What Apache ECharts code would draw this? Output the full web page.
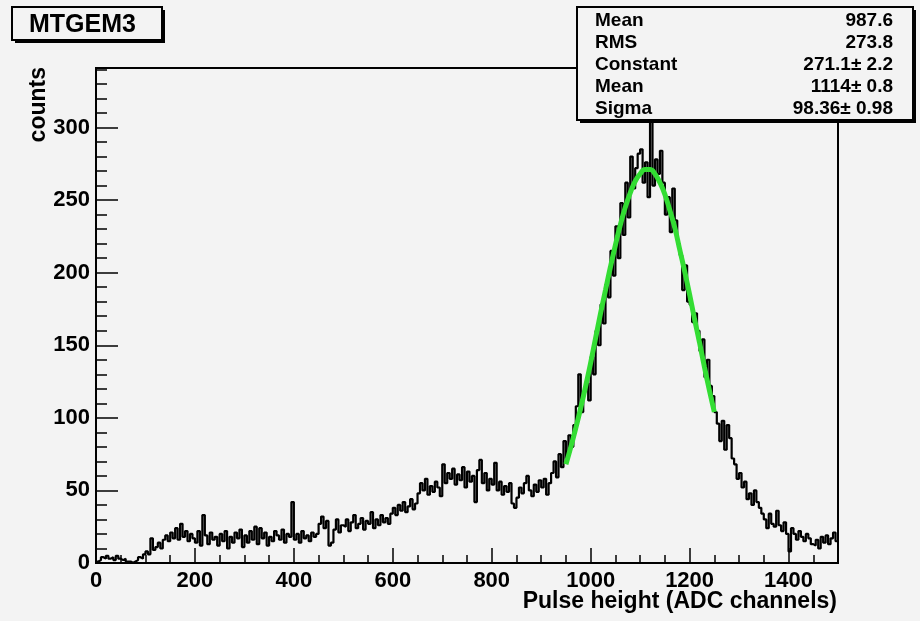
<!DOCTYPE html>
<html>
<head>
<meta charset="utf-8">
<script src="https://cdn.jsdelivr.net/npm/echarts@6/dist/echarts.min.js"></script>
<style>
  html, body { margin: 0; padding: 0; background: #f3f3f3; }
  #chart { width: 920px; height: 621px; }
</style>
</head>
<body>
<div id="chart"></div>
<script>
// histogram: 5 ADC channels per bin, 0..1500
const binWidth = 5;
const counts = [
  1, 2, 4, 3, 5, 3, 4, 2, 5, 3,
  2, 3, 1, 1, 0, 1, 2, 4, 3, 6,
  8, 6, 17, 9, 11, 14, 10, 16, 19, 15,
  21, 17, 24, 16, 27, 18, 22, 15, 20, 17,
  14, 22, 12, 33, 19, 13, 21, 16, 18, 12,
  20, 15, 22, 10, 18, 14, 21, 17, 23, 11,
  19, 14, 22, 16, 25, 13, 24, 17, 21, 12,
  18, 15, 22, 19, 16, 23, 14, 20, 18, 42,
  16, 20, 14, 22, 17, 19, 15, 21, 18, 20,
  27, 32, 24, 29, 12, 14, 23, 30, 21, 26,
  25, 30, 22, 28, 33, 24, 27, 31, 23, 29,
  27, 35, 24, 30, 26, 33, 28, 31, 27, 34,
  38, 33, 40, 36, 42, 35, 39, 44, 37, 41,
  48, 55, 50, 58, 47, 53, 49, 56, 52, 46,
  68, 55, 62, 58, 65, 54, 61, 57, 66, 52,
  63, 56, 60, 42, 64, 71, 55, 62, 50, 58,
  54, 69, 50, 56, 47, 53, 49, 55, 41, 38,
  45, 52, 48, 55, 60, 50, 46, 54, 49, 57,
  52, 58, 47, 55, 62, 70, 59, 75, 66, 84,
  72, 88, 80, 95, 108, 130, 104, 118, 124, 112,
  142, 130, 160, 150, 178, 165, 192, 183, 215, 198,
  232, 210, 248, 226, 262, 238, 280, 258, 272, 282,
  285, 262, 276, 252, 305, 260, 278, 268, 284, 262,
  240, 252, 228, 258, 236, 220, 212, 188, 205, 180,
  178, 166, 172, 160, 146, 154, 128, 140, 122, 115,
  104, 96, 84, 98, 78, 95, 86, 72, 68, 58,
  62, 52, 56, 44, 48, 40, 50, 42, 38, 34,
  30, 24, 34, 27, 25, 36, 26, 22, 28, 20,
  8, 24, 20, 16, 22, 18, 15, 20, 17, 13,
  12, 16, 10, 18, 14, 19, 13, 17, 21, 15
];

// gaussian fit curve
const fitX = [950, 960, 970, 980, 990, 1000, 1010, 1020, 1030, 1040, 1050, 1060, 1070, 1080, 1090, 1100,
  1110, 1120, 1130, 1140, 1150, 1160, 1170, 1180, 1190, 1200, 1210, 1220, 1230, 1240, 1250];
const fitY = [68, 80, 93, 107, 122, 138, 155, 172, 188, 204, 219, 233, 245, 255, 263, 268,
  271, 271, 268, 262, 254, 243, 231, 216, 201, 185, 168, 152, 135, 119, 104];

const statNames = ['Mean', 'RMS', 'Constant', 'Mean', 'Sigma'];
const statValues = ['987.6', '273.8', '271.1\u00b1 2.2', '1114\u00b1 0.8', '98.36\u00b1 0.98'];

const histData = counts.map((c, i) => [i * binWidth, c]);
histData.push([counts.length * binWidth, counts[counts.length - 1]]);
const fitData = fitX.map((x, i) => [x, fitY[i]]);

const font = 'Liberation Sans, Arial, Helvetica, sans-serif';
const chart = echarts.init(document.getElementById('chart'));

const statText = [];
statNames.forEach((n, i) => {
  statText.push({
    type: 'text', x: 595, y: 21 + i * 22, z: 102,
    style: { text: n, font: 'bold 19px ' + font, fill: '#000', align: 'left', verticalAlign: 'middle' }
  });
  statText.push({
    type: 'text', x: 893, y: 21 + i * 22, z: 102,
    style: { text: statValues[i], font: 'bold 19px ' + font, fill: '#000', align: 'right', verticalAlign: 'middle' }
  });
});

const plain = v => String(v);

chart.setOption({
  backgroundColor: '#f3f3f3',
  animation: false,
  grid: {
    left: 96, right: 82, top: 68, bottom: 58,
    show: true, borderColor: '#000', borderWidth: 2, backgroundColor: 'transparent'
  },
  xAxis: [{
    type: 'value', min: 0, max: 1500, interval: 200,
    axisLine: { show: true, onZero: false, lineStyle: { color: '#000', width: 2 } },
    axisTick: { show: true, inside: true, length: 15, lineStyle: { color: '#000', width: 1.5 } },
    axisLabel: { color: '#000', fontFamily: font, fontWeight: 'bold', fontSize: 22, margin: 7, showMaxLabel: false, formatter: plain },
    splitLine: { show: false }
  }, {
    type: 'value', min: 0, max: 1500, interval: 50, position: 'bottom',
    axisLine: { show: false },
    axisTick: { show: true, inside: true, length: 8, lineStyle: { color: '#000', width: 1.5 } },
    axisLabel: { show: false },
    splitLine: { show: false }
  }],
  yAxis: [{
    type: 'value', min: 0, max: 341, interval: 50,
    axisLine: { show: true, onZero: false, lineStyle: { color: '#000', width: 2 } },
    axisTick: { show: true, inside: true, length: 22, lineStyle: { color: '#000', width: 1.5 } },
    axisLabel: { color: '#000', fontFamily: font, fontWeight: 'bold', fontSize: 22, margin: 6, showMaxLabel: false, formatter: plain },
    splitLine: { show: false }
  }, {
    type: 'value', min: 0, max: 341, interval: 10, position: 'left',
    axisLine: { show: false },
    axisTick: { show: true, inside: true, length: 11, lineStyle: { color: '#000', width: 1.5 } },
    axisLabel: { show: false },
    splitLine: { show: false }
  }],
  series: [{
    type: 'line', step: 'end', data: histData, showSymbol: false,
    lineStyle: { color: '#000', width: 2.2 }, z: 3
  }, {
    type: 'line', smooth: true, data: fitData, showSymbol: false,
    lineStyle: { color: '#33dd33', width: 5 }, z: 4
  }],
  graphic: [
    // title box with shadow
    { type: 'rect', z: 100, shape: { x: 15, y: 10, width: 150, height: 33 }, style: { fill: '#000' } },
    { type: 'rect', z: 101, shape: { x: 12, y: 7, width: 150, height: 33 }, style: { fill: '#f3f3f3', stroke: '#000', lineWidth: 2 } },
    { type: 'text', z: 102, x: 29, y: 25, style: { text: 'MTGEM3', font: 'bold 25px ' + font, fill: '#000', align: 'left', verticalAlign: 'middle' } },
    // stats box with shadow
    { type: 'rect', z: 100, shape: { x: 580, y: 10, width: 336, height: 113 }, style: { fill: '#000' } },
    { type: 'rect', z: 101, shape: { x: 577, y: 7, width: 336, height: 113 }, style: { fill: '#f3f3f3', stroke: '#000', lineWidth: 2 } },
    ...statText,
    // axis titles
    { type: 'text', z: 102, x: 39, y: 67, rotation: Math.PI / 2,
      style: { text: 'counts', font: 'bold 23px ' + font, fill: '#000', align: 'right', verticalAlign: 'middle' } },
    { type: 'text', z: 102, x: 837, y: 602,
      style: { text: 'Pulse height (ADC channels)', font: 'bold 23px ' + font, fill: '#000', align: 'right', verticalAlign: 'middle' } }
  ]
});
</script>
</body>
</html>
